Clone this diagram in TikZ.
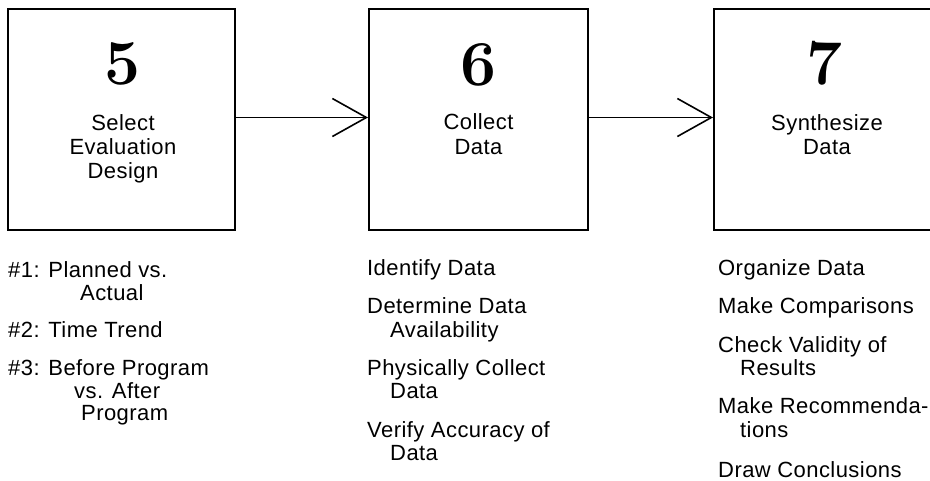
\documentclass[tikz,border=0pt]{standalone}
\usepackage{fontspec}
\newfontfamily\lblfont[LetterSpace=2]{Liberation Sans}
\usetikzlibrary{arrows.meta}
\begin{document}
\begin{tikzpicture}[x=1pt,y=-1pt,
 stagebox/.style={draw,line width=2pt,minimum height=221pt,inner sep=0pt},
 bignum/.style={anchor=base,inner sep=0pt,font=\fontsize{64}{64}\selectfont\bfseries},
 lbl/.style={anchor=base,inner sep=0pt,font=\lblfont\fontsize{22}{24}\selectfont},
 item/.style={anchor=base west,inner sep=0pt,font=\lblfont\fontsize{22}{24}\selectfont},
 flow/.style={line width=1.6pt,-{Straight Barb[length=34pt,width=38pt,line width=1.6pt]}}]
\clip (0,0) rectangle (930,480);
% boxes
\node[stagebox,minimum width=227pt] (b1) at (121.5,119.5) {};
\node[stagebox,minimum width=219pt] (b2) at (478.5,119.5) {};
\node[stagebox,minimum width=220pt] (b3) at (824,119.5) {};
% numbers
\node[bignum] (n1) at (123,84) {5};
\node[bignum] (n2) at (478.5,85) {6};
\node[bignum] (n3) at (825,84) {7};
% box labels
\node[lbl] (l1a) at (123,130) {Select};
\node[lbl] (l1b) at (123,154) {Evaluation};
\node[lbl] (l1c) at (123,178) {Design};
\node[lbl] (l2a) at (478.5,129) {Collect};
\node[lbl] (l2b) at (478.5,154) {Data};
\node[lbl] (l3a) at (827,130) {Synthesize};
\node[lbl] (l3b) at (827,154) {Data};
% connectors
\draw[flow] ([yshift=2pt]b1.east) -- ([yshift=2pt]b2.west);
\draw[flow] ([yshift=2pt]b2.east) -- ([yshift=2pt]b3.west);
% column 1
\node[item] (a1) at (8,277) {\#1: Planned vs.};
\node[item] (a1b) at (80,300) {Actual};
\node[item] (a2) at (8,337) {\#2: Time Trend};
\node[item] (a3) at (8,375) {\#3: Before Program};
\node[item] (a3b) at (74,398) {vs. After};
\node[item] (a3c) at (81,420) {Program};
% column 2
\node[item] (c1) at (367,275) {Identify Data};
\node[item] (c2) at (367,313) {Determine Data};
\node[item] (c2b) at (390,337) {Availability};
\node[item] (c3) at (367,375) {Physically Collect};
\node[item] (c3b) at (390,398) {Data};
\node[item] (c4) at (367,437) {Verify Accuracy of};
\node[item] (c4b) at (390,460) {Data};
% column 3
\node[item] (s1) at (718,275) {Organize Data};
\node[item] (s2) at (718,313) {Make Comparisons};
\node[item] (s3) at (718,352) {Check Validity of};
\node[item] (s3b) at (740,375) {Results};
\node[item] (s4) at (718,413) {Make Recommenda-};
\node[item] (s4b) at (740,437) {tions};
\node[item] (s5) at (718,477) {Draw Conclusions};
\end{tikzpicture}
\end{document}
